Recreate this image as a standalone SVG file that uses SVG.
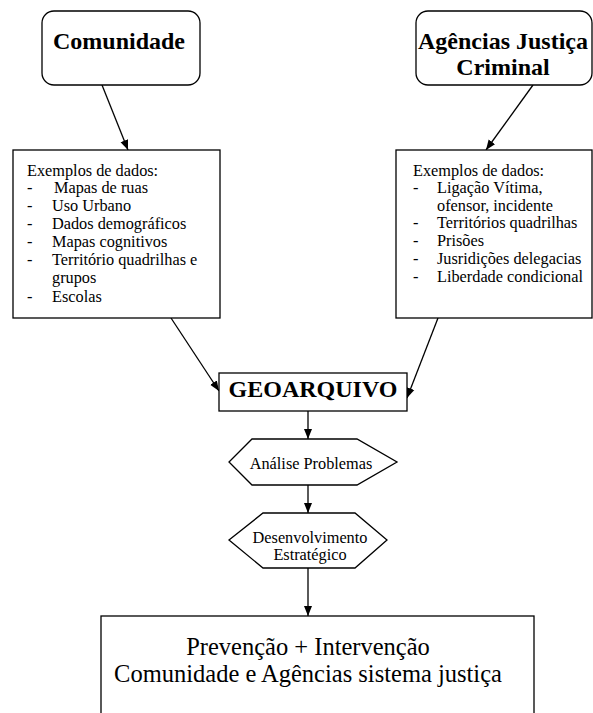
<svg xmlns="http://www.w3.org/2000/svg" width="593" height="713" viewBox="0 0 593 713">
  <style>
    .box { fill: #fff; stroke: #000; stroke-width: 1.3; }
    .edge { fill: none; stroke: #000; stroke-width: 1.3; marker-end: url(#arrow); }
    .title { font-family: "Liberation Serif", "Times New Roman", serif; font-weight: bold; font-size: 24px; fill: #000; text-anchor: middle; }
    .body { font-family: "Liberation Serif", "Times New Roman", serif; font-size: 16.3px; fill: #000; }
    .mid { text-anchor: middle; }
    .big { font-family: "Liberation Serif", "Times New Roman", serif; font-size: 24.5px; fill: #000; text-anchor: middle; }
  </style>
  <defs>
    <marker id="arrow" viewBox="0 0 10 10" refX="10" refY="5" markerWidth="10" markerHeight="10" markerUnits="userSpaceOnUse" orient="auto">
      <path d="M0,1 L10,5 L0,9 Z" fill="#000"/>
    </marker>
  </defs>
  <rect width="593" height="713" fill="#fff"/>

  <g id="connectors">
    <line class="edge" x1="102" y1="85" x2="128" y2="150"/>
    <line class="edge" x1="533" y1="85" x2="486" y2="150"/>
    <line class="edge" x1="171" y1="318" x2="219" y2="391"/>
    <line class="edge" x1="438" y1="318" x2="407" y2="398"/>
    <line class="edge" x1="308" y1="411" x2="308" y2="439"/>
    <line class="edge" x1="308" y1="485" x2="308" y2="513"/>
    <line class="edge" x1="308" y1="568" x2="308" y2="616"/>
  </g>

  <g id="comunidade">
    <rect class="box" x="42" y="11" width="158" height="74" rx="12"/>
    <text class="title" x="119" y="49">Comunidade</text>
  </g>

  <g id="agencias">
    <rect class="box" x="416" y="11" width="176" height="74" rx="12"/>
    <text class="title" x="503" y="49">Agências Justiça</text>
    <text class="title" x="503" y="75">Criminal</text>
  </g>

  <g id="dados-comunidade">
    <rect class="box" x="13" y="150" width="207" height="168"/>
    <text class="body" x="27" y="176">Exemplos de dados:</text>
    <text class="body" x="27" y="193">-</text><text class="body" x="54" y="193">Mapas de ruas</text>
    <text class="body" x="27" y="211">-</text><text class="body" x="52" y="211">Uso Urbano</text>
    <text class="body" x="27" y="229">-</text><text class="body" x="52" y="229">Dados demográficos</text>
    <text class="body" x="27" y="247">-</text><text class="body" x="52" y="247">Mapas cognitivos</text>
    <text class="body" x="27" y="265">-</text><text class="body" x="52" y="265">Território quadrilhas e</text>
    <text class="body" x="52" y="283">grupos</text>
    <text class="body" x="27" y="302">-</text><text class="body" x="52" y="302">Escolas</text>
  </g>

  <g id="dados-agencias">
    <rect class="box" x="396" y="150" width="196" height="168"/>
    <text class="body" x="413" y="176">Exemplos de dados:</text>
    <text class="body" x="413" y="193">-</text><text class="body" x="437" y="193">Ligação Vítima,</text>
    <text class="body" x="437" y="211">ofensor, incidente</text>
    <text class="body" x="413" y="228">-</text><text class="body" x="437" y="228">Territórios quadrilhas</text>
    <text class="body" x="413" y="246">-</text><text class="body" x="437" y="246">Prisões</text>
    <text class="body" x="413" y="264">-</text><text class="body" x="437" y="264">Jusridições delegacias</text>
    <text class="body" x="413" y="282">-</text><text class="body" x="437" y="282">Liberdade condicional</text>
  </g>

  <g id="geoarquivo">
    <rect class="box" x="219" y="373" width="188" height="38"/>
    <text class="title" x="313" y="397">GEOARQUIVO</text>
  </g>

  <g id="analise">
    <polygon class="box" points="252,439 357,439 397,462 357,485 252,485 229,462"/>
    <text class="body mid" x="311" y="469">Análise Problemas</text>
  </g>

  <g id="desenvolvimento">
    <polygon class="box" points="263,513 355,513 387,540 355,568 263,568 229,540"/>
    <text class="body mid" x="310" y="543">Desenvolvimento</text>
    <text class="body mid" x="310" y="560">Estratégico</text>
  </g>

  <g id="prevencao">
    <rect class="box" x="101" y="616" width="433" height="110"/>
    <text class="big" x="308" y="655">Prevenção + Intervenção</text>
    <text class="big" x="308" y="682">Comunidade e Agências sistema justiça</text>
  </g>
</svg>
